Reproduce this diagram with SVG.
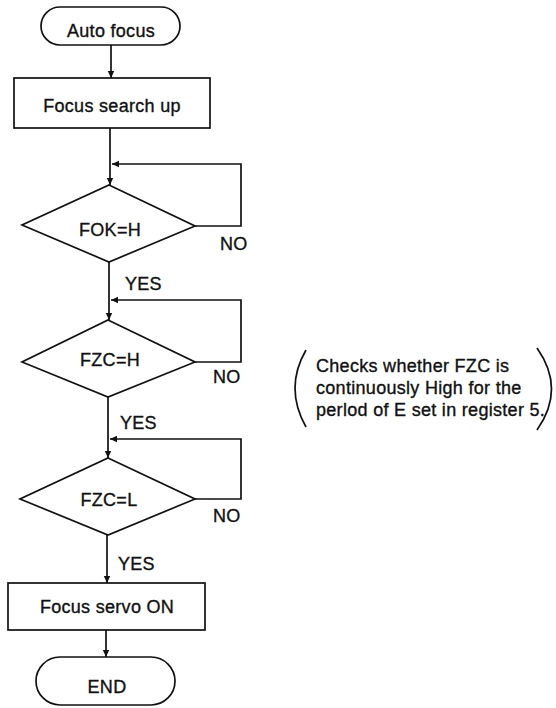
<svg xmlns="http://www.w3.org/2000/svg" width="556" height="708" viewBox="0 0 556 708">
<style>
.s{fill:none;stroke:#111;stroke-width:1.7}
.n{fill:#fff;stroke:#111;stroke-width:1.7}
text{font-family:"Liberation Sans",Arial,sans-serif;font-size:18px;fill:#111;stroke:#111;stroke-width:0.35;letter-spacing:0.3px}
.c{text-anchor:middle}
</style>
<defs>
<marker id="ah" markerWidth="8" markerHeight="8" refX="7" refY="4" orient="auto" markerUnits="userSpaceOnUse">
<path d="M0,0.8 L7,4 L0,7.2 Z" fill="#111"/>
</marker>
</defs>
<rect width="556" height="708" fill="#fff"/>
<g id="connectors">
<path class="s" d="M111,45 V78" marker-end="url(#ah)"/>
<path class="s" d="M110,128 V185" marker-end="url(#ah)"/>
<path class="s" d="M195,226 H241 V164 H112" marker-end="url(#ah)"/>
<path class="s" d="M109,262 V320" marker-end="url(#ah)"/>
<path class="s" d="M195,362 H241 V300 H111" marker-end="url(#ah)"/>
<path class="s" d="M108,397 V458" marker-end="url(#ah)"/>
<path class="s" d="M195,499 H241 V439 H110" marker-end="url(#ah)"/>
<path class="s" d="M107,535 V583" marker-end="url(#ah)"/>
<path class="s" d="M106,630 V657" marker-end="url(#ah)"/>
<text x="220" y="250">NO</text>
<text x="125" y="290">YES</text>
<text x="213" y="383">NO</text>
<text x="120" y="429">YES</text>
<text x="213" y="522">NO</text>
<text x="118" y="570">YES</text>
</g>
<g id="start">
<rect class="n" x="41" y="7" width="139" height="38" rx="19"/>
<text class="c" x="111" y="37">Auto focus</text>
</g>
<g id="search">
<rect class="n" x="14" y="78" width="196" height="50"/>
<text class="c" x="112" y="112">Focus search up</text>
</g>
<g id="fok">
<polygon class="n" points="109,185 195,226 109,262 22,225"/>
<text class="c" x="110" y="236">FOK=H</text>
</g>
<g id="fzch">
<polygon class="n" points="108,320 195,362 108,397 22,362"/>
<text class="c" x="110" y="366">FZC=H</text>
</g>
<g id="fzcl">
<polygon class="n" points="108,458 195,499 108,535 20,499"/>
<text class="c" x="109" y="506">FZC=L</text>
</g>
<g id="servo">
<rect class="n" x="8" y="583" width="197" height="47"/>
<text class="c" x="107" y="613">Focus servo ON</text>
</g>
<g id="end">
<rect class="n" x="36" y="657" width="139" height="48" rx="24"/>
<text class="c" x="107" y="693">END</text>
</g>
<g id="note">
<path class="s" d="M306,350 Q284,388 306,427"/>
<path class="s" d="M537,348 Q566,389 537,430"/>
<text x="316" y="372">Checks whether FZC is</text>
<text x="316" y="394">continuously High for the</text>
<text x="316" y="416">perlod of E set in register 5.</text>
</g>
</svg>
